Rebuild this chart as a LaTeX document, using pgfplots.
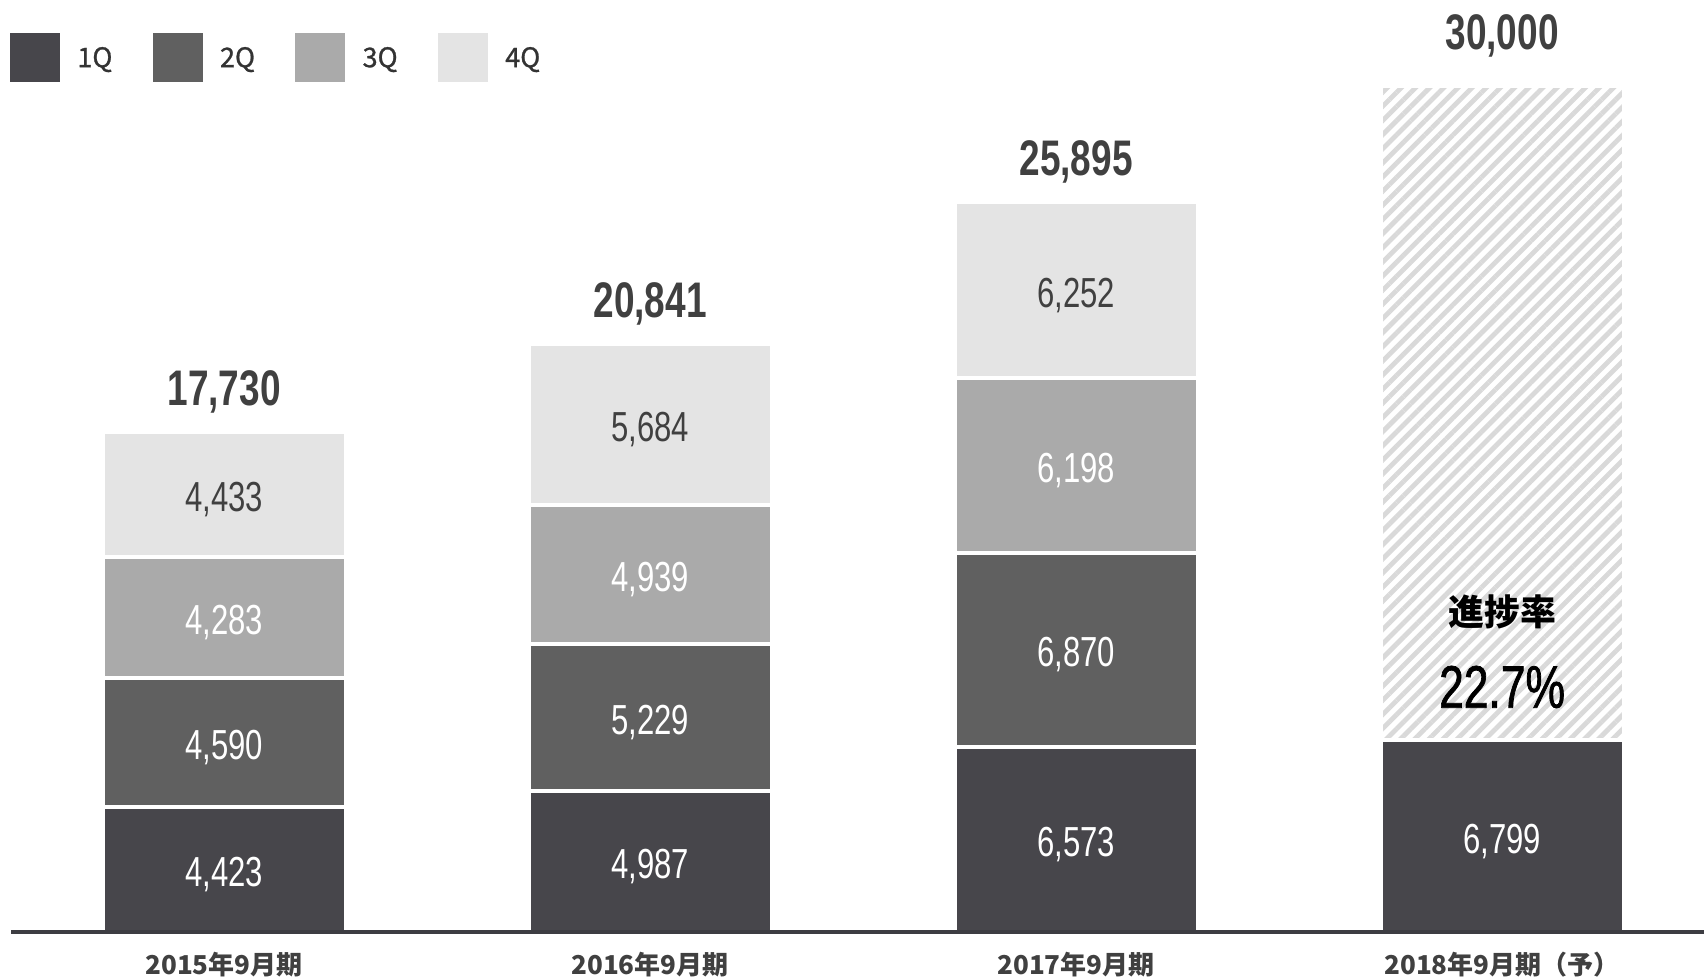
\documentclass[border=0pt]{standalone}
\usepackage{pgfplots}
\pgfplotsset{compat=1.18}
\usepackage{pgfplotstable}
\usetikzlibrary{patterns.meta}
\usepackage{fontspec}
\setmainfont{Liberation Sans}
\newfontfamily\numfont[FakeStretch=0.74]{Liberation Sans}
\newfontfamily\numfontb[FakeStretch=0.74,FakeBold=1.2]{Liberation Sans}
\newfontfamily\cjk{Noto Sans CJK JP}
\newfontfamily\cjkleg[FakeBold=1]{Noto Sans CJK JP}
\definecolor{q1}{HTML}{47464B}
\definecolor{q2}{HTML}{606060}
\definecolor{q3}{HTML}{AAAAAA}
\definecolor{q4}{HTML}{E4E4E4}
\definecolor{hatch}{HTML}{D9D9D9}
\definecolor{axisc}{HTML}{3D3D42}
\definecolor{darktext}{HTML}{404040}
\definecolor{legtext}{HTML}{333333}

\pgfplotstableread{
x q1 q2 q3 q4 rest
0 4423 4590 4283 4433 0
1 4987 5229 4939 5684 0
2 6573 6870 6198 6252 0
3 6799 0 0 0 23201
}\quarters

\pgfplotstableread{
x y off label
0 17730 10 17,730
1 20841 10 20,841
2 25895 10 25,895
3 30000 12.5 30,000
}\totals

\pgfplotsset{
  seg/.style={
    draw=white, line width=1pt,
    legend image code/.code={\fill[##1, draw=none] (0pt,-3.7pt) rectangle (12.5pt,8.6pt);},
    visualization depends on={rawy \as \rawy},
    nodes near coords={\ifdim\rawy pt>0pt\pgfmathprintnumber[assume math mode=true,1000 sep={,}]{\rawy}\fi},
    every node near coord/.append style={anchor=center, inner sep=0pt, yshift=-1.3pt,
      font=\numfont\fontsize{10.5}{12}\selectfont},
  },
  common/.style={
    at={(0,0)}, anchor=south west, scale only axis,
    width=423.25pt, height=233pt,
    xmin=-0.5, xmax=3.474, ymin=0, ymax=33050,
    clip=false,
  }
}

\begin{document}
\begin{tikzpicture}
\useasboundingbox (-2.75pt,-12pt) rectangle (423.25pt,233pt);
\begin{axis}[common,
  ybar stacked, bar width=0.5704,
  axis x line=bottom, axis y line=none,
  x axis line style={-, line width=1pt, draw=axisc},
  axis on top,
  xtick={0,1,2,3},
  xticklabels={2015年9月期,2016年9月期,2017年9月期,2018年9月期（予）},
  xtick style={draw=none}, major tick length=0pt,
  xticklabel style={font=\cjk\bfseries\fontsize{6.5}{8}\selectfont, text=darktext, anchor=center, yshift=-8.25pt},
  ytick=\empty,
  legend style={at={(0,1)}, anchor=north west, xshift=-0.2pt, yshift=-8.2pt,
    draw=none, fill=none, inner sep=0pt, outer sep=0pt,
    legend columns=4,
    font=\cjkleg\fontsize{6.75}{8}\selectfont, text=legtext,
    cells={anchor=base west},
    /tikz/every odd column/.append style={column sep=2.3pt},
    /tikz/every even column/.append style={column sep=8.1pt}},
]
\addplot[seg, fill=q1, every node near coord/.append style={text=white}] table[x=x,y=q1]{\quarters};
\addlegendentry{1Q}
\addplot[seg, fill=q2, every node near coord/.append style={text=white}] table[x=x,y=q2]{\quarters};
\addlegendentry{2Q}
\addplot[seg, fill=q3, every node near coord/.append style={text=white}] table[x=x,y=q3]{\quarters};
\addlegendentry{3Q}
\addplot[seg, fill=q4, every node near coord/.append style={text=darktext}] table[x=x,y=q4]{\quarters};
\addlegendentry{4Q}
\addplot[draw=white, line width=1pt, forget plot,
  pattern={Lines[angle=45,distance=2.5pt,line width=1.2pt]}, pattern color=hatch]
  table[x=x,y=rest]{\quarters};
\end{axis}
\begin{axis}[common, hide axis]
\addplot[draw=none, mark=none, nodes near coords, point meta=explicit symbolic,
  visualization depends on={\thisrow{off} \as \off},
  every node near coord/.append style={anchor=center, inner sep=0pt, yshift=\off pt,
    font=\numfont\bfseries\fontsize{12.5}{14}\selectfont, text=darktext}]
  table[x=x,y=y,meta=label]{\totals};
\node[font=\cjk\bfseries\fontsize{9}{10}\selectfont, text=black, fill=none] at (axis cs:3,11348) {\color{black}進捗率};
\node[font=\numfontb\fontsize{15}{17}\selectfont, text=black, fill=none] at (axis cs:3,8688) {\color{black}22.7\%};
\end{axis}
\end{tikzpicture}
\end{document}
